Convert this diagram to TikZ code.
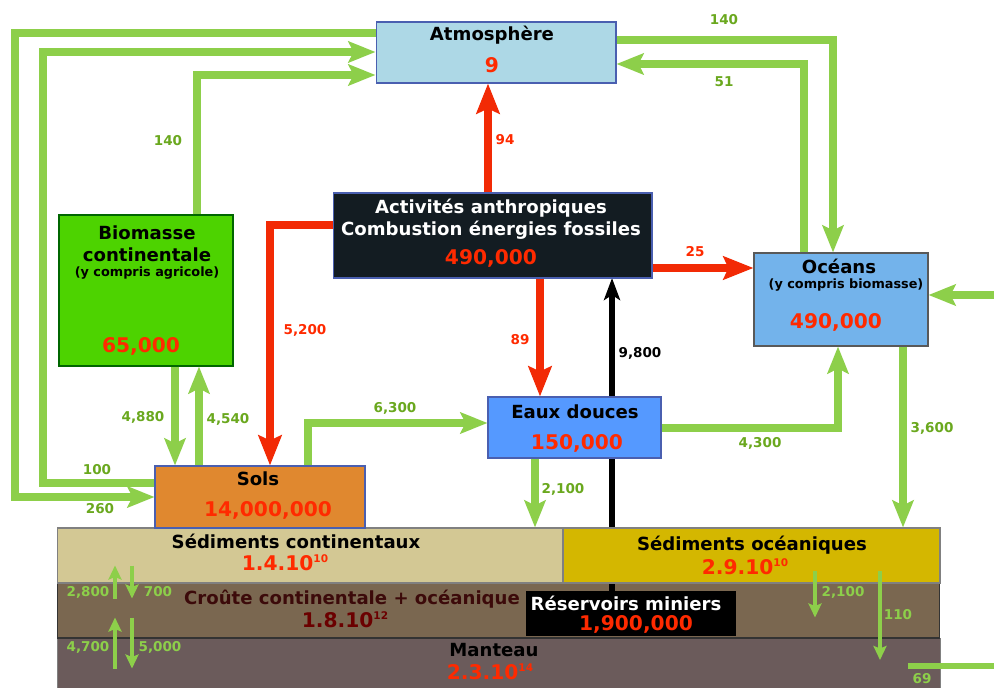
\documentclass[tikz,border=0pt]{standalone}
\usepackage{fontspec}
\setmainfont{DejaVu Sans}
\usetikzlibrary{arrows.meta}
\definecolor{flowgreen}{HTML}{8DCF4A}
\definecolor{lblgreen}{HTML}{6AA81E}
\definecolor{flowred}{HTML}{F22A05}
\definecolor{valred}{HTML}{FF2A00}
\definecolor{atmfill}{HTML}{ADD8E6}
\definecolor{actfill}{HTML}{131C22}
\definecolor{biofill}{HTML}{4DD300}
\definecolor{ocefill}{HTML}{73B3EB}
\definecolor{eaufill}{HTML}{5599FF}
\definecolor{solfill}{HTML}{E0882F}
\definecolor{sedcfill}{HTML}{D3C894}
\definecolor{sedofill}{HTML}{D4B700}
\definecolor{croufill}{HTML}{7A6750}
\definecolor{mantfill}{HTML}{6B5B5B}
\definecolor{boxline}{HTML}{4A5FB0}
\definecolor{croutext}{HTML}{3C0A0A}
\definecolor{crouval}{HTML}{6B0000}
\newcommand{\expo}[1]{\raisebox{0.75ex}{\fontsize{6}{6}\selectfont #1}}
\begin{document}
\begin{tikzpicture}[x=0.02cm,y=-0.02cm,
  box/.style={draw=#1,line width=0.6pt,inner sep=0pt},
  ttl/.style={font=\bfseries\fontsize{10.3}{12.6}\selectfont,inner sep=0pt,align=center},
  sub/.style={font=\bfseries\fontsize{7.3}{9}\selectfont,inner sep=0pt},
  val/.style={font=\bfseries\fontsize{11.5}{13}\selectfont,text=valred,inner sep=0pt},
  lbl/.style={font=\bfseries\fontsize{7.7}{9}\selectfont,text=lblgreen,inner sep=0pt},
  gflow/.style={draw=flowgreen,line width=4pt,-{Stealth[length=0.54cm,width=0.42cm,inset=0.1cm]}},
  sflow/.style={draw=flowgreen,line width=2.3pt,-{Stealth[length=0.28cm,width=0.26cm,inset=0.05cm]}},
  rflow/.style={draw=flowred,line width=4pt,-{Stealth[length=0.6cm,width=0.46cm,inset=0.1cm]}},
  bflow/.style={draw=black,line width=3.4pt,-{Stealth[length=0.44cm,width=0.32cm,inset=0.1cm]}}]
\useasboundingbox[fill=white] (0,0) rectangle (994,688);

% layers
\node[box=gray,fill=mantfill,minimum width=17.66cm,minimum height=1.1cm,anchor=north west] (mant) at (57,638) {};
\node[box=black!80,fill=croufill,minimum width=17.66cm,minimum height=1.1cm] (crou) at (498.5,610.5) {};
\coordinate (mineTop) at (612,592);
\draw[bflow] (mineTop) -- (612,278);
\node[box=gray,fill=sedcfill,minimum width=10.12cm,minimum height=1.1cm] (sedc) at (310,555.5) {};
\node[box=gray,fill=sedofill,minimum width=7.54cm,minimum height=1.1cm] (sedo) at (751.5,555.5) {};
\node[box=black,fill=black,minimum width=4.16cm,minimum height=0.86cm] (mine) at (631,613.5) {};

% boxes
\node[box=boxline,fill=atmfill,minimum width=4.8cm,minimum height=1.22cm] (atm) at (496,52.5) {};
\node[box=boxline,fill=actfill,minimum width=6.38cm,minimum height=1.7cm] (act) at (492.5,235.5) {};
\node[box=green!40!black,fill=biofill,minimum width=3.48cm,minimum height=3.02cm] (bio) at (146,290.5) {};
\node[box=gray!70!black,fill=ocefill,minimum width=3.48cm,minimum height=1.86cm] (oce) at (841,299.5) {};
\node[box=boxline,fill=eaufill,minimum width=3.46cm,minimum height=1.22cm] (eau) at (574.5,427.5) {};
\node[box=boxline,fill=solfill,minimum width=4.2cm,minimum height=1.24cm] (sols) at (260,497) {};

% texts
\node[ttl] (atmT) at (492,35) {Atmosphère};
\node[val] (atmV) at (492,65) {9};
\node[ttl,text=white] (actT) at (491,219.5) {Activités anthropiques\\Combustion énergies fossiles};
\node[val] (actV) at (491,258) {490,000};
\node[ttl] (bioT) at (147,243.5) {Biomasse\\continentale};
\node[sub] (bioS) at (147,273) {(y compris agricole)};
\node[val] (bioV) at (141,346) {65,000};
\node[ttl] (oceT) at (839,266) {Océans};
\node[sub] (oceS) at (846,285) {(y compris biomasse)};
\node[val] (oceV) at (836,322) {490,000};
\node[ttl] (eauT) at (575,412) {Eaux douces};
\node[val] (eauV) at (577,443) {150,000};
\node[ttl] (solsT) at (258,479) {Sols};
\node[val] (solsV) at (268,510) {14,000,000};
\node[ttl] (sedcT) at (296,541) {Sédiments continentaux};
\node[val] (sedcV) at (285,563) {1.4.10\expo{10}};
\node[ttl] (sedoT) at (752,545) {Sédiments océaniques};
\node[val] (sedoV) at (745,567) {2.9.10\expo{10}};
\node[ttl,text=croutext] (crouT) at (352,599) {Croûte continentale + océanique};
\node[val,text=crouval] (crouV) at (345,620) {1.8.10\expo{12}};
\node[ttl] (mantT) at (494,650) {Manteau};
\node[val] (mantV) at (490,672) {2.3.10\expo{14}};
\node[ttl,text=white] (mineT) at (626,603) {Réservoirs miniers};
\node[val] (mineV) at (636,624) {1,900,000};

% red flows
\draw[rflow] (act.north -| 488,0) -- (atm.south -| 488,0);
\draw[rflow] (act.west |- 0,225) -| (sols.north -| 270,0);
\draw[rflow] (act.south -| 540,0) -- (eau.north -| 540,0);
\draw[rflow] (act.east |- 0,268) -- (oce.west |- 0,268);

% green flows
\draw[gflow] (atm.west |- 0,33) -| (15,497) -- (sols.west |- 0,497);
\draw[gflow] (sols.west |- 0,483) -| (43,52) -- (atm.west |- 0,52);
\draw[gflow] (bio.north -| 197,0) |- (atm.west |- 0,75);
\draw[gflow] (bio.south -| 175,0) -- (sols.north -| 175,0);
\draw[gflow] (sols.north -| 199,0) -- (bio.south -| 199,0);
\draw[gflow] (sols.north -| 308,0) |- (eau.west |- 0,423);
\draw[gflow] (eau.east |- 0,428) -| (oce.south -| 838,0);
\draw[gflow] (eau.south -| 535,0) -- (sedc.north -| 535,0);
\draw[gflow] (oce.south -| 903,0) -- (sedo.north -| 903,0);
\draw[gflow] (atm.east |- 0,40) -| (oce.north -| 833,0);
\draw[gflow] (oce.north -| 804,0) |- (atm.east |- 0,64);
\coordinate (inO) at (994,295);
\draw[gflow] (inO) -- (oce.east |- inO);

% inside the layers
\draw[sflow] ([yshift=-0.3cm]sedc.south -| 115,0) -- ([yshift=0.36cm]sedc.south -| 115,0);
\draw[sflow] ([yshift=0.36cm]sedc.south -| 132,0) -- ([yshift=-0.3cm]sedc.south -| 132,0);
\draw[sflow] ([yshift=-0.6cm]crou.south -| 115,0) -- ([yshift=0.42cm]crou.south -| 115,0);
\draw[sflow] ([yshift=0.42cm]crou.south -| 132,0) -- ([yshift=-0.6cm]crou.south -| 132,0);
\draw[sflow] ([yshift=-0.32cm]sedo.center -| 815,0) -- ([yshift=0.42cm]crou.south -| 815,0);
\draw[sflow] ([yshift=-0.32cm]sedo.center -| 880,0) -- ([yshift=-0.44cm]mant.north -| 880,0);
\coordinate (outM) at (994,666);
\draw[draw=flowgreen,line width=3.2pt] (mant.east |- outM) ++(-33,0) -- (outM);

% labels
\node[lbl] (l140a) at (168,141) {140};
\node[lbl] (l140b) at (724,20) {140};
\node[lbl] (l51) at (724,82) {51};
\node[lbl] (l4880) at (143,417) {4,880};
\node[lbl] (l4540) at (228,419) {4,540};
\node[lbl] (l6300) at (395,408) {6,300};
\node[lbl] (l100) at (97,470) {100};
\node[lbl] (l260) at (100,509) {260};
\node[lbl] (l2100a) at (563,489) {2,100};
\node[lbl] (l4300) at (760,443) {4,300};
\node[lbl] (l3600) at (932,428) {3,600};
\node[lbl,text=valred] (l94) at (505,140) {94};
\node[lbl,text=valred] (l5200) at (305,330) {5,200};
\node[lbl,text=valred] (l89) at (520,340) {89};
\node[lbl,text=valred] (l25) at (695,252) {25};
\node[lbl,text=black] (l9800) at (640,353) {9,800};
\node[lbl,text=flowgreen] (l2800) at (88,592) {2,800};
\node[lbl,text=flowgreen] (l700) at (158,592) {700};
\node[lbl,text=flowgreen] (l4700) at (88,647) {4,700};
\node[lbl,text=flowgreen] (l5000) at (160,647) {5,000};
\node[lbl,text=flowgreen] (l2100b) at (843,592) {2,100};
\node[lbl,text=flowgreen] (l110) at (898,615) {110};
\node[lbl,text=flowgreen] (l69) at (922,679) {69};
\end{tikzpicture}
\end{document}
